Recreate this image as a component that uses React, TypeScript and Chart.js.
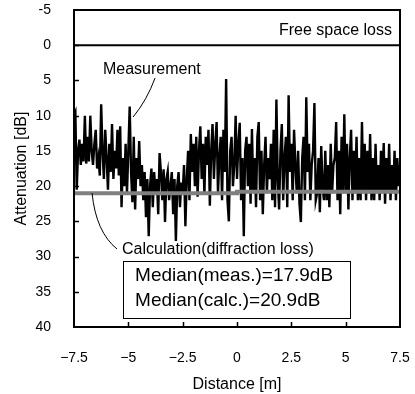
import React, { useEffect, useRef } from "react";
import { Chart, registerables } from "chart.js";
Chart.register(...registerables);

const FONT = '"Liberation Sans", Arial, sans-serif';

const X_MIN = -7.5;
const X_MAX = 7.5;
const Y_MIN = -5;
const Y_MAX = 40;
const X_TICKS = [-7.5, -5, -2.5, 0, 2.5, 5, 7.5];
const Y_TICKS = [-5, 0, 5, 10, 15, 20, 25, 30, 35, 40];

// Measured attenuation [dB], evenly sampled from -7.5 m to 7.5 m
const MEASUREMENT_DB = [
  10, 9.5, 20.5, 15, 13.4, 17, 14, 16.5,
  10, 16.8, 13, 16.5, 10, 15, 17, 14,
  12, 17.5, 16, 18.5, 8.4, 15, 19, 12,
  16, 20.5, 14, 18, 11.2, 19, 15, 17.5,
  12, 18.5, 11.5, 23, 16, 20, 14, 21,
  15, 8.7, 18, 22.3, 13, 23.3, 16, 19,
  13.6, 20, 17, 22, 18, 24.4, 19, 27.1,
  20, 17.5, 23, 18, 21, 19, 24, 15.3,
  18, 22, 17.6, 25.1, 19, 17.9, 22, 20,
  18, 24, 19, 27.8, 20, 18, 23, 19.5,
  21, 17, 25.7, 19, 15, 22, 12.6, 18,
  14, 20, 13, 21.5, 15, 11.5, 19, 14,
  21.2, 13, 17, 12, 22.8, 15, 11.2, 19,
  14, 10.9, 21, 16, 13, 22, 12, 18,
  4.8, 22, 25, 15, 13, 20, 17, 10,
  19, 14, 11, 22, 16, 27.1, 15, 13,
  20, 14, 22.5, 11.9, 21, 16, 23, 13,
  10.9, 22, 15, 24, 17, 13, 21, 16,
  19, 14, 22, 12, 23, 7.7, 19, 23.3,
  15, 11.2, 22, 16, 13, 23, 7.1, 18,
  14, 22, 12, 17, 21, 15, 22.5, 25.1,
  16, 13, 22, 7.4, 18, 14, 22, 17,
  15, 8.2, 22, 21, 16, 23.7, 14.3, 20,
  22, 15, 22, 17, 23, 14, 21, 17,
  16, 10.9, 22, 15, 24, 13, 21, 9.8,
  21, 14, 23.3, 16, 12, 22, 15, 21,
  13, 22, 16, 22, 10.9, 21, 14, 22,
  15, 21, 12.6, 22, 16, 22, 14, 21,
  17, 22, 15, 21, 13.9, 22.5, 16, 21,
  14, 22, 17, 21, 15, 22, 16, 20,
  17,
];

const CALC_X = [-7.5, 0, 0, 7.5];
const CALC_DB = [21.0, 21.0, 20.8, 20.8];

const FREE_X = [-7.5, 7.5];
const FREE_DB = [0, 0];

const LABEL_FREE = "Free space loss";
const LABEL_MEAS = "Measurement";
const LABEL_CALC = "Calculation(diffraction loss)";
const MEDIAN_LINES = ["Median(meas.)=17.9dB", "Median(calc.)=20.9dB"];

function fmtX(v: number) {
  return v < 0 ? "\u2212" + Math.abs(v) : String(v);
}

export default function App() {
  const ref = useRef<HTMLCanvasElement>(null);

  useEffect(() => {
    if (!ref.current) return;
    const n = MEASUREMENT_DB.length;
    const step = (X_MAX - X_MIN) / (n - 1);
    const measData = MEASUREMENT_DB.map((v, i) => ({ x: X_MIN + i * step, y: v }));
    const calcData = CALC_X.map((x, i) => ({ x, y: CALC_DB[i] }));
    const freeData = FREE_X.map((x, i) => ({ x, y: FREE_DB[i] }));

    const annot = {
      id: "annot",
      afterDraw(chart: any) {
        const { ctx, chartArea: a } = chart;
        const xs = chart.scales.x;
        const ys = chart.scales.y;
        const px = (v: number) => xs.getPixelForValue(v);
        const py = (v: number) => ys.getPixelForValue(v);
        ctx.save();
        // frame
        ctx.strokeStyle = "#000";
        ctx.lineWidth = 2;
        ctx.strokeRect(a.left, a.top, a.right - a.left, a.bottom - a.top);
        // inner ticks
        ctx.lineWidth = 1.5;
        ctx.beginPath();
        Y_TICKS.forEach((t) => {
          if (t === Y_MIN || t === Y_MAX) return;
          const yy = Math.round(py(t)) + 0.5;
          ctx.moveTo(a.left, yy);
          ctx.lineTo(a.left + 5, yy);
        });
        X_TICKS.forEach((t) => {
          if (t === X_MIN || t === X_MAX) return;
          const xx = Math.round(px(t)) + 0.5;
          ctx.moveTo(xx, a.bottom);
          ctx.lineTo(xx, a.bottom - 5);
        });
        ctx.stroke();

        // leader lines
        ctx.lineWidth = 1;
        ctx.beginPath();
        ctx.moveTo(px(-3.77), py(4.65));
        ctx.quadraticCurveTo(px(-4.14), py(7.78), px(-4.78), py(10.19));
        ctx.moveTo(px(-6.67), py(20.98));
        ctx.quadraticCurveTo(px(-6.49), py(26.52), px(-5.52), py(28.93));
        ctx.stroke();

        // texts
        ctx.fillStyle = "#000";
        ctx.textBaseline = "middle";
        ctx.font = `16px ${FONT}`;
        ctx.textAlign = "right";
        ctx.fillText(LABEL_FREE, px(7.13), py(-2.02));
        ctx.textAlign = "left";
        ctx.fillText(LABEL_MEAS, px(-6.17), py(3.52));
        ctx.fillText(LABEL_CALC, px(-5.29), py(29.07));

        // median box
        const bx1 = px(-5.25), bx2 = px(5.2), by1 = py(30.63), by2 = py(38.73);
        ctx.fillStyle = "#fff";
        ctx.fillRect(bx1, by1, bx2 - bx1, by2 - by1);
        ctx.strokeStyle = "#000";
        ctx.lineWidth = 1;
        ctx.strokeRect(Math.round(bx1) + 0.5, Math.round(by1) + 0.5, Math.round(bx2 - bx1), Math.round(by2 - by1));
        ctx.fillStyle = "#000";
        ctx.font = `19px ${FONT}`;
        ctx.fillText(MEDIAN_LINES[0], px(-4.69), py(32.76));
        ctx.fillText(MEDIAN_LINES[1], px(-4.69), py(36.31));

        // axis titles
        ctx.font = `16px ${FONT}`;
        ctx.textAlign = "center";
        ctx.fillText("Distance [m]", (a.left + a.right) / 2, 385);
        ctx.translate(22, (a.top + a.bottom) / 2);
        ctx.rotate(-Math.PI / 2);
        ctx.fillText("Attenuation [dB]", 0, 0);
        ctx.restore();
      },
    };

    const chart = new Chart(ref.current, {
      type: "line",
      data: {
        datasets: [
          {
            label: "Calculation",
            data: calcData,
            borderColor: "#808080",
            borderWidth: 4,
            pointRadius: 0,
            tension: 0,
          },
          {
            label: "Free space loss",
            data: freeData,
            borderColor: "#000",
            borderWidth: 2,
            pointRadius: 0,
            tension: 0,
          },
          {
            label: "Measurement",
            data: measData,
            borderColor: "#000",
            borderWidth: 2.4,
            pointRadius: 0,
            tension: 0,
          },
        ],
      },
      options: {
        responsive: false,
        animation: false,
        events: [],
        layout: { padding: { top: 10, right: 15, left: 0, bottom: 0 } },
        plugins: {
          legend: { display: false },
          tooltip: { enabled: false },
          title: { display: false },
        },
        scales: {
          x: {
            type: "linear",
            min: X_MIN,
            max: X_MAX,
            grid: { display: false },
            border: { display: false },
            afterBuildTicks: (s: any) => {
              s.ticks = X_TICKS.map((v) => ({ value: v }));
            },
            afterFit: (s: any) => {
              s.height = 67;
              s.paddingLeft = 0;
              s.paddingRight = 0;
            },
            ticks: {
              color: "#000",
              font: { family: FONT, size: 14 },
              padding: 15,
              maxRotation: 0,
              autoSkip: false,
              callback: (v: any) => fmtX(Number(v)),
            },
          },
          y: {
            type: "linear",
            reverse: true,
            min: Y_MIN,
            max: Y_MAX,
            grid: { display: false },
            border: { display: false },
            afterBuildTicks: (s: any) => {
              s.ticks = Y_TICKS.map((v) => ({ value: v }));
            },
            afterFit: (s: any) => {
              s.width = 74;
              s.paddingTop = 0;
              s.paddingBottom = 0;
            },
            ticks: {
              color: "#000",
              font: { family: FONT, size: 14 },
              padding: 15,
              autoSkip: false,
              callback: (v: any) => String(v),
            },
          },
        },
      },
      plugins: [annot],
    } as any);
    return () => chart.destroy();
  }, []);

  return (
    <div style={{ position: "absolute", left: 0, top: 0, width: 415, height: 394, background: "#fff" }}>
      <canvas ref={ref} width={415} height={394} />
    </div>
  );
}
